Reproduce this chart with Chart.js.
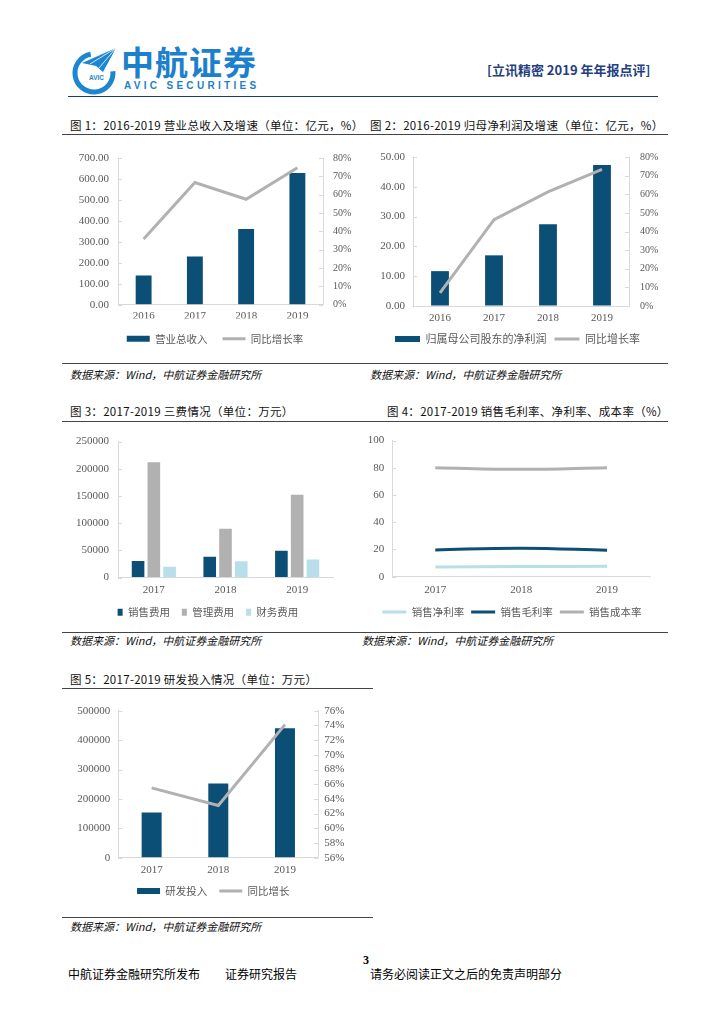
<!DOCTYPE html>
<html>
<head>
<meta charset="utf-8">
<title>立讯精密 2019 年年报点评</title>
<script src="https://cdn.jsdelivr.net/npm/chart.js"></script>
<style>
  body { margin: 0; width: 724px; height: 1024px; background: #fff; position: relative; overflow: hidden;
         font-family: 'Noto Sans CJK SC', sans-serif; }
  .abs { position: absolute; white-space: nowrap; }
  .title { font-size: 11.5px; line-height: 14px; color: #111; letter-spacing: 0.3px; }
  .src { font-size: 11px; line-height: 14px; font-style: italic; color: #111; }
  .rule { position: absolute; height: 0; border-top: 1px solid #444; }
  canvas { position: absolute; }
</style>
</head>
<body>

<!-- header -->
<svg class="abs" style="left:64px;top:42px" width="60" height="54" viewBox="0 0 60 54">
  <path d="M26.7 12.3 A19 19 0 1 0 48.9 29.3" fill="none" stroke="#1D86D1" stroke-width="5"/>
  <polygon points="52,6 18,21 32,24 39,30" fill="#1D86D1"/>
  <line x1="52" y1="6" x2="26" y2="22" stroke="#fff" stroke-width="0.8"/>
  <line x1="52" y1="6" x2="35" y2="26" stroke="#fff" stroke-width="0.8"/>
  <text x="25" y="38" font-family="Liberation Sans" font-weight="bold" font-size="6.5" fill="#1D86D1">AVIC</text>
</svg>
<div class="abs" style="left:121px;top:45px;font-size:33px;line-height:1;font-weight:bold;color:#1D80CC;letter-spacing:1px">中航证券</div>
<div class="abs" style="left:124px;top:81px;font-family:'Liberation Sans';font-size:10px;line-height:1;font-weight:bold;color:#1D80CC;letter-spacing:3.3px">AVIC SECURITIES</div>
<div class="abs" style="left:487px;top:62px;font-size:13px;line-height:16px;font-weight:bold;color:#1F3F80">[立讯精密 2019 年年报点评]</div>
<div class="rule" style="left:68px;top:96px;width:590px;border-top:1.5px solid #1F3A6E"></div>

<!-- row 1 -->
<div class="abs title" style="left:70px;top:118px">图 1：2016-2019 营业总收入及增速（单位：亿元，%）</div>
<div class="abs title" style="left:370px;top:118px">图 2：2016-2019 归母净利润及增速（单位：亿元，%）</div>
<div class="rule" style="left:62px;top:134px;width:606px"></div>
<canvas id="c1" width="290" height="215" style="left:62px;top:140px"></canvas>
<canvas id="c2" width="300" height="215" style="left:362px;top:140px"></canvas>
<div class="rule" style="left:62px;top:363px;width:606px"></div>
<div class="abs src" style="left:70px;top:367px">数据来源：Wind，中航证券金融研究所</div>
<div class="abs src" style="left:370px;top:367px">数据来源：Wind，中航证券金融研究所</div>

<!-- row 2 -->
<div class="abs title" style="left:70px;top:404px">图 3：2017-2019 三费情况（单位：万元）</div>
<div class="abs title" style="left:387px;top:404px">图 4：2017-2019 销售毛利率、净利率、成本率（%）</div>
<div class="rule" style="left:62px;top:421px;width:606px"></div>
<canvas id="c3" width="290" height="202" style="left:62px;top:426px"></canvas>
<canvas id="c4" width="300" height="202" style="left:362px;top:426px"></canvas>
<div class="rule" style="left:62px;top:632px;width:606px"></div>
<div class="abs src" style="left:70px;top:633px">数据来源：Wind，中航证券金融研究所</div>
<div class="abs src" style="left:362px;top:633px">数据来源：Wind，中航证券金融研究所</div>

<!-- row 3 -->
<div class="abs title" style="left:70px;top:672px">图 5：2017-2019 研发投入情况（单位：万元）</div>
<div class="rule" style="left:62px;top:688px;width:311px"></div>
<canvas id="c5" width="300" height="213" style="left:62px;top:694px"></canvas>
<div class="rule" style="left:62px;top:917px;width:311px"></div>
<div class="abs src" style="left:70px;top:919px">数据来源：Wind，中航证券金融研究所</div>

<!-- footer -->
<div class="abs" style="left:363px;top:953px;font-family:'Liberation Serif';font-weight:bold;font-size:12px;line-height:14px">3</div>
<div class="abs" style="left:68px;top:967px;font-size:12px;line-height:14px">中航证券金融研究所发布</div>
<div class="abs" style="left:225px;top:967px;font-size:12px;line-height:14px">证券研究报告</div>
<div class="abs" style="left:370px;top:967px;font-size:12px;line-height:14px">请务必阅读正文之后的免责声明部分</div>

<script>
// ---- data ----
const years4 = ['2016', '2017', '2018', '2019'];
const years3 = ['2017', '2018', '2019'];
const revenue = [139, 230, 361, 628];
const revenueGrowth = [35.9, 66.6, 57.5, 74.7];
const netProfit = [11.7, 17.0, 27.4, 47.3];
const netProfitGrowth = [7.1, 46.4, 61.3, 73.4];
const sellingExp = [30600, 38400, 49500];
const adminExp = [211800, 89700, 152200];
const financeExp = [20000, 30100, 33000];
const netMargin = [7.2, 7.5, 7.6];
const grossMargin = [19.7, 20.9, 19.4];
const costRate = [80.1, 78.9, 80.1];
const rdSpend = [154000, 252800, 439900];
const rdGrowth = [65.5, 63.1, 74.1];

const DARK = '#0C4F76';
const GRAY = '#B1B1B1';
const LIGHT = '#B8DEEA';
const AXIS = '#D9D9D9';
const TICK = '#595959';
const SERIF = "'Liberation Serif', 'Times New Roman', serif";
const CJK = "'Noto Sans CJK SC', sans-serif";

Chart.defaults.animation = false;
Chart.defaults.font.family = SERIF;
Chart.defaults.color = TICK;
Chart.defaults.plugins.tooltip.enabled = false;

// small tick marks pointing into the plot, like the report's excel charts
const innerTicks = {
  id: 'innerTicks',
  afterDraw(chart) {
    const ctx = chart.ctx;
    ctx.save();
    ctx.strokeStyle = AXIS;
    ctx.lineWidth = 1;
    Object.values(chart.scales).forEach(s => {
      if (s.axis !== 'y') return;
      const left = s.position === 'left';
      const x = left ? s.right : s.left;
      s.ticks.forEach((t, i) => {
        const y = Math.round(s.getPixelForTick(i)) + 0.5;
        ctx.beginPath();
        ctx.moveTo(x, y);
        ctx.lineTo(x + (left ? 4 : -4), y);
        ctx.stroke();
      });
    });
    ctx.restore();
  }
};

// nudge the legend sideways without touching the plot area
const shiftLegend = {
  id: 'shiftLegend',
  afterLayout(chart, args, opts) {
    const dx = opts.dx || 0;
    if (chart.legend) {
      chart.legend.left += dx;
      chart.legend.right += dx;
    }
  }
};

function legendItems(chart) {
  const items = Chart.defaults.plugins.legend.labels.generateLabels(chart);
  items.forEach(it => {
    const ds = chart.data.datasets[it.datasetIndex];
    const isLine = (ds.type || chart.config.type) === 'line';
    it.pointStyle = isLine ? 'line' : 'rect';
    it.fillStyle = isLine ? ds.borderColor : ds.backgroundColor;
    it.strokeStyle = it.fillStyle;
    it.lineWidth = isLine ? 3 : 0;
  });
  return items.sort((a, b) => a.datasetIndex - b.datasetIndex);
}

function legend(fs, pad, boxW, boxH) {
  return {
    position: 'bottom',
    labels: {
      usePointStyle: true, pointStyleWidth: boxW, boxHeight: boxH,
      padding: pad, color: TICK, font: { family: CJK, size: fs },
      generateLabels: legendItems
    }
  };
}

function yAxis(pos, width, min, max, step, fmt, pad, fs) {
  return {
    position: pos, min: min, max: max,
    grid: { drawOnChartArea: false, drawTicks: false, color: AXIS },
    border: { color: AXIS },
    ticks: { stepSize: step, autoSkip: false, color: TICK, padding: pad,
             font: { family: SERIF, size: fs }, callback: fmt },
    afterFit: s => { s.width = width; }
  };
}

function xAxis(height, pad) {
  return {
    grid: { drawOnChartArea: false, drawTicks: false, color: AXIS },
    border: { color: AXIS },
    ticks: { color: TICK, padding: pad, font: { family: SERIF, size: 11 } },
    afterFit: s => { s.height = height; }
  };
}

const fix2 = v => v.toFixed(2);
const pct = v => v + '%';
const plain = v => v;

// 图1
new Chart(document.getElementById('c1'), {
  type: 'bar',
  data: {
    labels: years4,
    datasets: [
      { label: '营业总收入', data: revenue, backgroundColor: DARK, yAxisID: 'y',
        categoryPercentage: 1, barPercentage: 0.31, order: 1 },
      { type: 'line', label: '同比增长率', data: revenueGrowth, borderColor: GRAY, backgroundColor: GRAY,
        borderWidth: 3, pointRadius: 0, yAxisID: 'y1', order: 0 }
    ]
  },
  options: {
    responsive: false,
    layout: { padding: { top: 18, left: 0, right: 0, bottom: 1 } },
    scales: {
      x: xAxis(13.75, 5),
      y: yAxis('left', 56, 0, 700, 100, fix2, 9, 11),
      y1: yAxis('right', 29, 0, 80, 10, pct, 10, 10)
    },
    plugins: { legend: legend(10.5, 15, 23, 6), shiftLegend: { dx: 8 } }
  },
  plugins: [innerTicks, shiftLegend]
});

// 图2
new Chart(document.getElementById('c2'), {
  type: 'bar',
  data: {
    labels: years4,
    datasets: [
      { label: '归属母公司股东的净利润', data: netProfit, backgroundColor: DARK, yAxisID: 'y',
        categoryPercentage: 1, barPercentage: 0.33, order: 1 },
      { type: 'line', label: '同比增长率', data: netProfitGrowth, borderColor: GRAY, backgroundColor: GRAY,
        borderWidth: 3, pointRadius: 0, yAxisID: 'y1', order: 0 }
    ]
  },
  options: {
    responsive: false,
    layout: { padding: { top: 16.7, left: 0, right: 0, bottom: 0.5 } },
    scales: {
      x: xAxis(19.5, 6),
      y: yAxis('left', 51, 0, 50, 10, fix2, 8, 11),
      y1: yAxis('right', 33, 0, 80, 10, pct, 11, 10)
    },
    plugins: { legend: legend(11, 8, 25, 6), shiftLegend: { dx: 5.5 } }
  },
  plugins: [innerTicks, shiftLegend]
});

// 图3
new Chart(document.getElementById('c3'), {
  type: 'bar',
  data: {
    labels: years3,
    datasets: [
      { label: '销售费用', data: sellingExp, backgroundColor: DARK },
      { label: '管理费用', data: adminExp, backgroundColor: GRAY },
      { label: '财务费用', data: financeExp, backgroundColor: LIGHT }
    ]
  },
  options: {
    responsive: false,
    datasets: { bar: { categoryPercentage: 0.66, barPercentage: 0.8 } },
    layout: { padding: { top: 10.7, left: 0, right: 19, bottom: 0.5 } },
    scales: {
      x: xAxis(17.45, 6),
      y: yAxis('left', 56, 0, 250000, 50000, plain, 9, 11)
    },
    plugins: { legend: legend(10.5, 12, 5, 7), shiftLegend: { dx: 10.5 } }
  },
  plugins: [innerTicks, shiftLegend]
});

// 图4
new Chart(document.getElementById('c4'), {
  type: 'line',
  data: {
    labels: years3,
    datasets: [
      { label: '销售净利率', data: netMargin, borderColor: LIGHT, backgroundColor: LIGHT },
      { label: '销售毛利率', data: grossMargin, borderColor: DARK, backgroundColor: DARK },
      { label: '销售成本率', data: costRate, borderColor: GRAY, backgroundColor: GRAY }
    ]
  },
  options: {
    responsive: false,
    datasets: { line: { borderWidth: 3, pointRadius: 0, tension: 0.4 } },
    layout: { padding: { top: 11.7, left: 0, right: 12, bottom: 0.75 } },
    scales: {
      x: Object.assign(xAxis(23.05, 7), { offset: true }),
      y: yAxis('left', 30.3, 0, 100, 20, plain, 8, 11)
    },
    plugins: { legend: legend(10.5, 7, 24, 6), shiftLegend: { dx: 6 } }
  },
  plugins: [innerTicks, shiftLegend]
});

// 图5
new Chart(document.getElementById('c5'), {
  type: 'bar',
  data: {
    labels: years3,
    datasets: [
      { label: '研发投入', data: rdSpend, backgroundColor: DARK, yAxisID: 'y',
        categoryPercentage: 1, barPercentage: 0.3, order: 1 },
      { type: 'line', label: '同比增长', data: rdGrowth, borderColor: GRAY, backgroundColor: GRAY,
        borderWidth: 3, pointRadius: 0, yAxisID: 'y1', order: 0 }
    ]
  },
  options: {
    responsive: false,
    layout: { padding: { top: 16.7, left: 0, right: 0, bottom: 0.75 } },
    scales: {
      x: xAxis(16.05, 6),
      y: yAxis('left', 56.3, 0, 500000, 100000, plain, 8, 11),
      y1: yAxis('right', 43.7, 56, 76, 2, pct, 6, 11)
    },
    plugins: { legend: legend(10.5, 12, 23, 6), shiftLegend: { dx: 1.3 } }
  },
  plugins: [innerTicks, shiftLegend]
});
</script>
</body>
</html>
